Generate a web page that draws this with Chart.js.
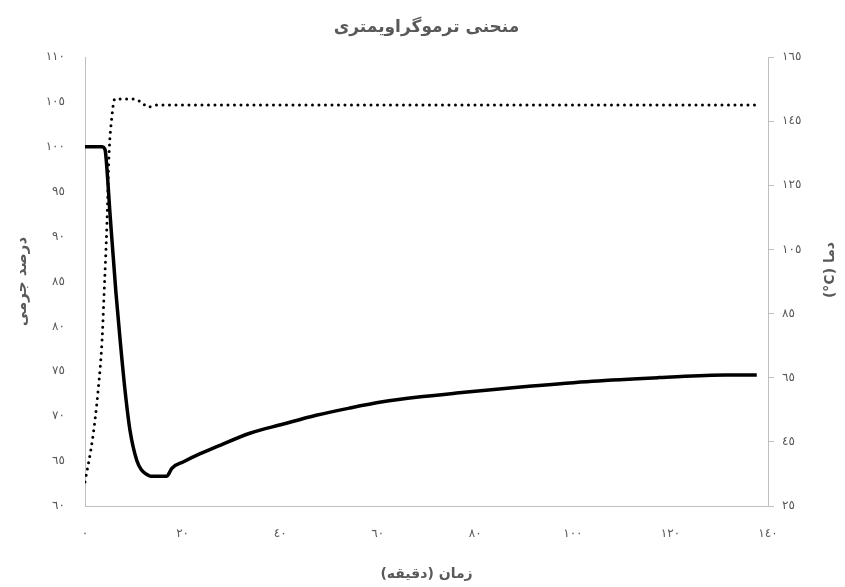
<!DOCTYPE html>
<html>
<head>
<meta charset="utf-8">
<script src="https://cdn.jsdelivr.net/npm/chart.js@4.4.0/dist/chart.umd.min.js"></script>
<style>
  html, body { margin: 0; padding: 0; background: #ffffff; }
  canvas { display: block; direction: rtl; }
</style>
</head>
<body>
<canvas id="c" width="845" height="587"></canvas>
<script>
// ---- data ----
const chartTitle = 'منحنی ترموگراویمتری';
const xTitle = 'زمان (دقیقه)';
const leftTitle = 'درصد جرمی';
const rightTitle = 'دما (\u200E°C)';

// mass percent (solid line, left axis)
const massTime = [0, 2, 3.5, 4.0, 4.2, 5.2, 6.35, 7.2, 8.2, 9.2, 10.6, 11.6, 12.7, 13.5, 16.8, 17.3, 17.8, 20.1, 23.5, 27.0, 33.8, 40.5, 47.4, 54.2, 61.0, 67.9, 76.7, 90.4, 104.0, 117.7, 131.4, 137.7];
const massValues = [100, 100, 100, 99.8, 99.4, 92.0, 83.7, 78.5, 72.9, 68.5, 65.1, 64.0, 63.5, 63.3, 63.3, 63.7, 64.2, 64.9, 65.8, 66.6, 68.1, 69.1, 70.1, 70.9, 71.6, 72.1, 72.6, 73.3, 73.9, 74.3, 74.6, 74.6];

// temperature (dotted line, right axis)
const tempTime = [0, 1.6, 2.7, 3.5, 3.9, 4.5, 4.9, 5.5, 6.1, 10.2, 11.7, 12.9, 14.7, 137.5];
const tempValues = [32.5, 46.5, 61.2, 76.8, 90.8, 113.2, 133.8, 146.3, 151.9, 151.9, 150.7, 149.4, 150.0, 150.0];

// axis ranges / tick steps
const xRange = [0, 140, 20];
const leftRange = [60, 110, 5];
const rightRange = [25, 165, 20];

const arabicDigits = '٠١٢٣٤٥٦٧٨٩';
const toArabic = v => String(v).replace(/\d/g, d => arabicDigits[+d]);

const massPoints = massTime.map((t, i) => ({x: t, y: massValues[i]}));
const tempPoints = tempTime.map((t, i) => ({x: t, y: tempValues[i]}));

const FONT = '"DejaVu Sans", sans-serif';
const GRAY = '#595959';
const AXIS = '#bfbfbf';

const rightTitlePlugin = {
  id: 'rightTitle',
  afterDraw(chart) {
    const ctx = chart.ctx;
    ctx.save();
    ctx.translate(830, 270);
    ctx.rotate(-Math.PI / 2);
    ctx.textAlign = 'center';
    ctx.textBaseline = 'middle';
    ctx.font = 'bold 14px ' + FONT;
    ctx.fillStyle = GRAY;
    ctx.fillText(rightTitle, 0, 0);
    ctx.restore();
  }
};

new Chart(document.getElementById('c'), {
  type: 'line',
  data: {
    datasets: [
      {
        label: 'temp',
        data: tempPoints,
        yAxisID: 'yR',
        borderColor: '#000000',
        borderWidth: 3,
        borderDash: [0, 6.5],
        borderCapStyle: 'round',
        pointRadius: 0,
        fill: false,
        cubicInterpolationMode: 'monotone'
      },
      {
        label: 'mass',
        data: massPoints,
        yAxisID: 'yL',
        borderColor: '#000000',
        borderWidth: 3.5,
        pointRadius: 0,
        fill: false,
        cubicInterpolationMode: 'monotone'
      }
    ]
  },
  options: {
    responsive: false,
    animation: false,
    devicePixelRatio: 1,
    layout: { padding: 0 },
    plugins: {
      legend: { display: false },
      tooltip: { enabled: false },
      title: {
        display: true,
        text: chartTitle,
        fullSize: false,
        color: GRAY,
        font: { family: FONT, size: 17, weight: 'bold' },
        padding: { top: 17, bottom: 19.6 }
      }
    },
    scales: {
      x: {
        type: 'linear',
        min: xRange[0], max: xRange[1],
        afterFit(s) { s.height = 81; },
        grid: { display: false, drawTicks: false },
        border: { display: true, color: AXIS, width: 1 },
        ticks: {
          stepSize: xRange[2],
          padding: 21,
          color: GRAY,
          font: { family: FONT, size: 12 },
          callback: v => toArabic(v)
        },
        title: {
          display: true,
          text: xTitle,
          color: GRAY,
          font: { family: FONT, size: 14, weight: 'bold' },
          padding: { top: 0, bottom: 4.6 }
        }
      },
      yL: {
        type: 'linear',
        position: 'left',
        min: leftRange[0], max: leftRange[1],
        afterFit(s) { s.width = 85; },
        grid: { display: false, drawTicks: false },
        border: { display: true, color: AXIS, width: 1 },
        ticks: {
          stepSize: leftRange[2],
          padding: 20,
          color: GRAY,
          font: { family: FONT, size: 12 },
          callback: v => toArabic(v)
        },
        title: {
          display: true,
          text: leftTitle,
          color: GRAY,
          font: { family: FONT, size: 15, weight: 'bold' },
          padding: { top: 13, bottom: 0 }
        }
      },
      yR: {
        type: 'linear',
        position: 'right',
        min: rightRange[0], max: rightRange[1],
        afterFit(s) { s.width = 77; },
        grid: { display: true, drawOnChartArea: false, drawTicks: true, tickLength: 6, color: AXIS },
        border: { display: true, color: AXIS, width: 1 },
        ticks: {
          stepSize: rightRange[2],
          padding: 8,
          color: GRAY,
          font: { family: FONT, size: 12 },
          callback: v => toArabic(v)
        }
      }
    }
  },
  plugins: [rightTitlePlugin]
});
</script>
</body>
</html>
